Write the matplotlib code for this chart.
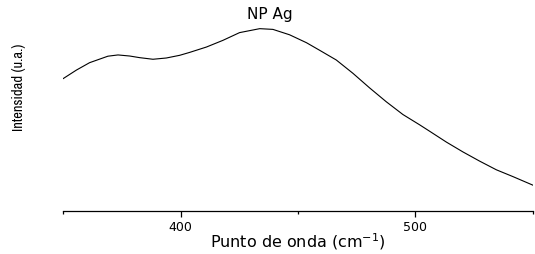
import matplotlib
matplotlib.use("Agg")
import matplotlib.pyplot as plt
from matplotlib.ticker import FixedLocator
from matplotlib import font_manager

wavenumber = [350.0, 355.6, 361.2, 369.0, 373.3, 378.3, 382.5, 388.2, 393.9, 399.6,
              403.8, 411.0, 418.0, 425.1, 433.7, 439.3, 446.4, 453.6, 459.2, 466.3,
              473.4, 480.5, 487.6, 494.7, 501.8, 506.1, 513.2, 520.3, 527.4, 534.5,
              541.6, 550.0]
intensity = [0.736, 0.783, 0.824, 0.860, 0.867, 0.861, 0.852, 0.843, 0.850, 0.865,
             0.881, 0.911, 0.948, 0.991, 1.013, 1.009, 0.979, 0.935, 0.893, 0.839,
             0.765, 0.684, 0.607, 0.536, 0.479, 0.443, 0.383, 0.328, 0.277, 0.229,
             0.191, 0.144]
major_ticks = [400, 500]
minor_ticks = [350, 450, 550]
tick_labels = ["400", "500"]

plt.rcParams['font.family'] = ['DejaVu Sans']

W, H = 535, 254
fig = plt.figure(figsize=(W/100, H/100), dpi=100)
ax = fig.add_axes([63.3/W, 1-211/H, (532.7-63.3)/W, (211-22)/H])

ax.plot(wavenumber, intensity, color='black', lw=0.8)
ax.set_xlim(350, 550)
ax.set_ylim(0, 1.05)

for s in ['top', 'right', 'left']:
    ax.spines[s].set_visible(False)
ax.spines['bottom'].set_linewidth(0.9)
ax.set_yticks([])
ax.xaxis.set_major_locator(FixedLocator(major_ticks))
ax.set_xticklabels(tick_labels, fontsize=9)
ax.xaxis.set_minor_locator(FixedLocator(minor_ticks))
ax.tick_params(axis='x', which='major', length=4, width=0.9, pad=3.5)
ax.tick_params(axis='x', which='minor', length=2.5, width=0.9)

fig.text(298/W, 1-248/H, "Punto de onda (cm$^{-1}$)", ha='center', va='baseline',
         fontsize=11.5)

narrow = sorted({f.name for f in font_manager.fontManager.ttflist if 'Narrow' in f.name})
if narrow:
    yfam, ysize = [narrow[0], 'DejaVu Sans'], 10.5
else:
    yfam, ysize = ['Liberation Sans', 'DejaVu Sans'], 9
fig.text(19/W, 1-87/H, "Intensidad (u.a.)", rotation=90, ha='center', va='center',
         fontsize=ysize, family=yfam)
fig.text(270/W, 1-19.5/H, "NP Ag", ha='center', va='baseline', fontsize=11)

fig.savefig("out.png", dpi=100)
